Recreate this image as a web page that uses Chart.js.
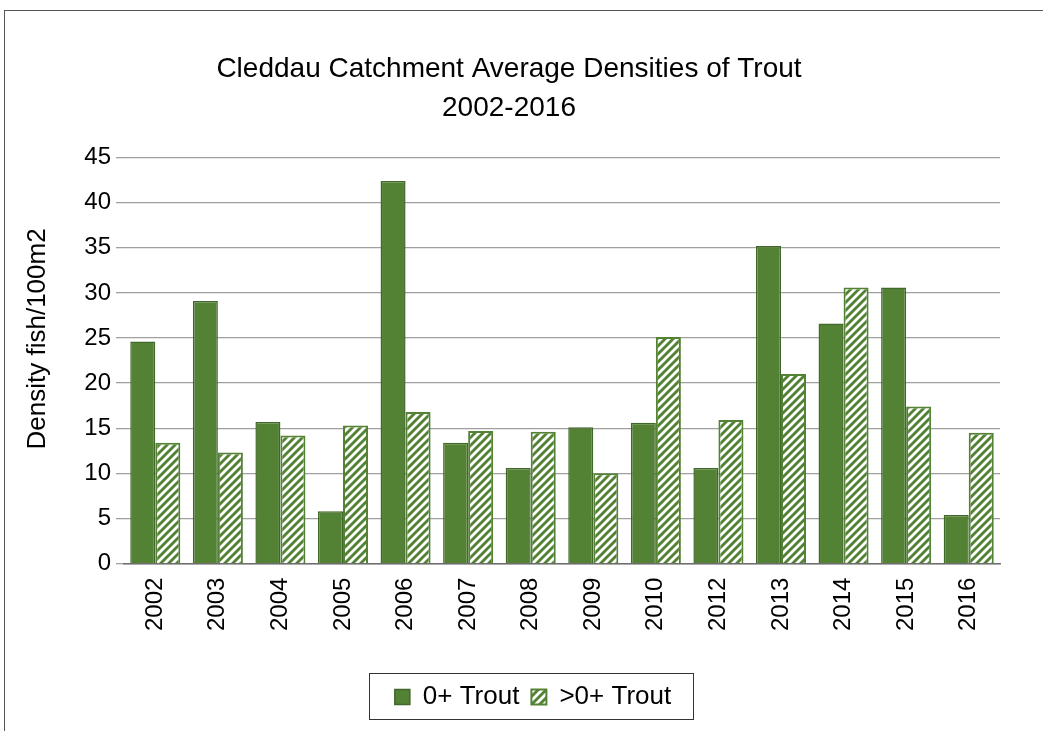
<!DOCTYPE html>
<html>
<head>
<meta charset="utf-8">
<script src="https://cdn.jsdelivr.net/npm/chart.js@4"></script>
<style>
  html, body { margin: 0; padding: 0; background: #fff; }
  #wrap { width: 1043px; height: 731px; }
</style>
</head>
<body>
<div id="wrap"><canvas id="troutChart"></canvas></div>
<script>
const years = ["2002", "2003", "2004", "2005", "2006", "2007", "2008", "2009", "2010", "2012", "2013", "2014", "2015", "2016"];
const youngTrout = [24.6, 29.1, 15.7, 5.8, 42.4, 13.4, 10.6, 15.1, 15.6, 10.6, 35.2, 26.6, 30.6, 5.4];
const olderTrout = [13.4, 12.3, 14.2, 15.3, 16.8, 14.7, 14.6, 10.0, 25.1, 15.9, 21.0, 30.6, 17.4, 14.5];
const yTicks = [0, 5, 10, 15, 20, 25, 30, 35, 40, 45];

const green = "#548235";
const darkEdge = "#41672a";

// hatched fill for the >0+ series
function makeStripes() {
  const c = document.createElement("canvas");
  c.width = 8;
  c.height = 8;
  const g = c.getContext("2d");
  g.fillStyle = green;
  g.fillRect(0, 0, 8, 8);
  g.strokeStyle = "#fff";
  g.lineWidth = 2.8;
  g.beginPath();
  g.moveTo(-2, 10); g.lineTo(10, -2);
  g.moveTo(-2, 2); g.lineTo(2, -2);
  g.moveTo(6, 10); g.lineTo(10, 6);
  g.stroke();
  return g.createPattern(c, "repeat");
}
const stripes = makeStripes();

// outer frame + box round the legend
const framePlugin = {
  id: "frame",
  afterLayout(chart) {
    // nudge legend right so it sits where the boxed one does
    chart.legend.left += 24;
    chart.legend.right += 24;
  },
  afterDraw(chart) {
    const ctx = chart.ctx;
    ctx.save();
    ctx.strokeStyle = "#555";
    ctx.lineWidth = 1;
    ctx.strokeRect(4.5, 10.5, 1200, 900);
    ctx.strokeStyle = "#333";
    ctx.strokeRect(369.5, 673.5, 324, 46);
    ctx.restore();
  }
};

Chart.defaults.font.family = "'Liberation Sans', Arial, sans-serif";
Chart.defaults.color = "#000";

new Chart(document.getElementById("troutChart"), {
  type: "bar",
  data: {
    labels: years,
    datasets: [
      {
        label: "0+ Trout",
        data: youngTrout,
        backgroundColor: green,
        borderColor: darkEdge,
        borderWidth: 1.5,
        categoryPercentage: 0.8,
        barPercentage: 1.0
      },
      {
        label: ">0+ Trout",
        data: olderTrout,
        backgroundColor: stripes,
        borderColor: green,
        borderWidth: 2,
        categoryPercentage: 0.8,
        barPercentage: 1.0
      }
    ]
  },
  options: {
    responsive: true,
    maintainAspectRatio: false,
    animation: false,
    layout: { padding: { left: 18, right: 43, top: 27, bottom: 11 } },
    plugins: {
      title: {
        display: true,
        text: ["Cleddau Catchment Average Densities of Trout", "2002-2016"],
        font: { size: 28, weight: "normal", lineHeight: 1.42 },
        color: "#000",
        padding: { top: 22, bottom: 29 }
      },
      legend: {
        position: "bottom",
        labels: {
          font: { size: 26 },
          boxWidth: 15,
          boxHeight: 15,
          padding: 12
        }
      },
      tooltip: { enabled: false }
    },
    scales: {
      x: {
        grid: { display: false, drawTicks: false },
        border: { color: "#6e6e6e", width: 1.5 },
        ticks: {
          font: { size: 24 },
          maxRotation: 90,
          minRotation: 90,
          padding: 14
        },
        afterFit(scale) {
          scale.height += 27;
        }
      },
      y: {
        min: 0,
        max: 45,
        afterBuildTicks(scale) {
          scale.ticks = yTicks.map(v => ({ value: v }));
        },
        afterFit(scale) {
          scale.width = 106;
        },
        grid: { color: "#a0a0a0", lineWidth: 1.3, tickLength: 8 },
        border: { display: false },
        ticks: { font: { size: 24 }, padding: 5 },
        title: {
          display: true,
          text: "      Density fish/100m2",
          font: { size: 26 },
          padding: { top: 4, bottom: 4 }
        }
      }
    }
  },
  plugins: [framePlugin]
});
</script>
</body>
</html>
